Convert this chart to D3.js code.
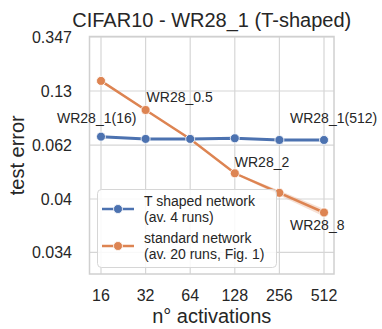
<!DOCTYPE html>
<html>
<head>
<meta charset="utf-8">
<script src="https://cdn.jsdelivr.net/npm/d3@7"></script>
<style>
  body { margin: 0; background: #fff; }
  text { font-family: "Liberation Sans", Arial, sans-serif; fill: #262626; }
</style>
</head>
<body>
<script>
// activations on the x axis
const activations = [16, 32, 64, 128, 256, 512];

// T shaped network (av. 4 runs)
const tShaped = [0.0688, 0.0670, 0.0670, 0.0675, 0.0662, 0.0662];
const tShapedLo = [0.0682, 0.0665, 0.0665, 0.0670, 0.0657, 0.0657];
const tShapedHi = [0.0694, 0.0675, 0.0675, 0.0680, 0.0667, 0.0667];

// standard network (av. 20 runs, Fig. 1)
const standard = [0.155, 0.0977, 0.0670, 0.0483, 0.0424, 0.0385];
const standardLo = [0.153, 0.0970, 0.0665, 0.0480, 0.0418, 0.0379];
const standardHi = [0.157, 0.0984, 0.0675, 0.0486, 0.0430, 0.0391];

// y ticks (values and the labels shown)
const yTicks = [0.3472, 0.131, 0.0626, 0.041, 0.0342];
const yTickLabels = ["0.347", "0.13", "0.062", "0.04", "0.034"];

const pointLabels = ["WR28_1(16)", "WR28_0.5", "WR28_2", "WR28_8", "WR28_1(512)"];

const W = 382, H = 329;
const plot = { left: 89.5, right: 334, top: 36.5, bottom: 274 };

const svg = d3.select("body").append("svg")
    .attr("width", W)
    .attr("height", H);

// x is log2, y is log10 of (error - offset)
const x = d3.scaleLog().base(2)
    .domain([16, 512])
    .range([101, 324]);

const offset = 0.031;
const yt = d3.scaleLinear()
    .domain([-0.5, -2.5])
    .range([37, 253]);
const y = v => yt(Math.log10(v - offset));

// grid
svg.append("g").selectAll("line")
    .data(activations)
    .enter().append("line")
    .attr("x1", d => x(d)).attr("x2", d => x(d))
    .attr("y1", plot.top).attr("y2", plot.bottom)
    .attr("stroke", "#d6d6d6").attr("stroke-width", 1.2);

svg.append("g").selectAll("line")
    .data(yTicks)
    .enter().append("line")
    .attr("x1", plot.left).attr("x2", plot.right)
    .attr("y1", d => y(d)).attr("y2", d => y(d))
    .attr("stroke", "#d6d6d6").attr("stroke-width", 1.2);

svg.append("rect")
    .attr("x", plot.left).attr("y", plot.top)
    .attr("width", plot.right - plot.left).attr("height", plot.bottom - plot.top)
    .attr("fill", "none")
    .attr("stroke", "#d0d0d0").attr("stroke-width", 1.5);

// tick labels
svg.append("g").selectAll("text")
    .data(yTicks)
    .enter().append("text")
    .attr("x", 72)
    .attr("y", d => y(d))
    .attr("dy", "0.36em")
    .attr("text-anchor", "end")
    .style("font-size", "16px")
    .text((d, i) => yTickLabels[i]);

svg.append("g").selectAll("text")
    .data(activations)
    .enter().append("text")
    .attr("x", d => x(d))
    .attr("y", 301)
    .attr("text-anchor", "middle")
    .style("font-size", "16px")
    .text(d => d);

// titles
svg.append("text")
    .attr("x", (plot.left + plot.right) / 2)
    .attr("y", 27)
    .attr("text-anchor", "middle")
    .style("font-size", "20px")
    .text("CIFAR10 - WR28_1 (T-shaped)");

svg.append("text")
    .attr("x", (plot.left + plot.right) / 2)
    .attr("y", 323)
    .attr("text-anchor", "middle")
    .style("font-size", "20px")
    .text("n° activations");

svg.append("text")
    .attr("transform", `translate(24,${(plot.top + plot.bottom) / 2}) rotate(-90)`)
    .attr("text-anchor", "middle")
    .style("font-size", "20px")
    .text("test error");

// series
const series = [
    { vals: standard, lo: standardLo, hi: standardHi, color: "#dd8452", width: 2.5 },
    { vals: tShaped, lo: tShapedLo, hi: tShapedHi, color: "#4c72b0", width: 3 }
];

const band = d3.area()
    .x((d, i) => x(activations[i]))
    .y0(d => y(d[0]))
    .y1(d => y(d[1]));

const line = d3.line()
    .x((d, i) => x(activations[i]))
    .y(d => y(d));

series.forEach(s => {
    svg.append("path")
        .datum(s.lo.map((v, i) => [v, s.hi[i]]))
        .attr("d", band)
        .attr("fill", s.color)
        .attr("fill-opacity", 0.25);

    svg.append("path")
        .datum(s.vals)
        .attr("d", line)
        .attr("fill", "none")
        .attr("stroke", s.color)
        .attr("stroke-width", s.width);

    svg.append("g").selectAll("circle")
        .data(s.vals)
        .enter().append("circle")
        .attr("cx", (d, i) => x(activations[i]))
        .attr("cy", d => y(d))
        .attr("r", 4.5)
        .attr("fill", s.color)
        .attr("stroke", "#fff")
        .attr("stroke-width", 0.8);
});

// point labels
const labelAt = [
    [16, tShaped[0], -44, -14],
    [32, standard[1], 1, -7.5],
    [128, standard[3], 0, -6],
    [512, standard[5], -34, 18],
    [512, tShaped[5], -34, -17]
];
svg.append("g").selectAll("text")
    .data(pointLabels)
    .enter().append("text")
    .attr("x", (d, i) => x(labelAt[i][0]) + labelAt[i][2])
    .attr("y", (d, i) => y(labelAt[i][1]) + labelAt[i][3])
    .style("font-size", "14px")
    .text(d => d);

// legend
const legend = svg.append("g").attr("transform", "translate(97,189)");
legend.append("rect")
    .attr("x", 0.5).attr("y", 0.5)
    .attr("width", 179).attr("height", 78)
    .attr("rx", 4)
    .attr("fill", "#fff").attr("fill-opacity", 0.85)
    .attr("stroke", "#d6d6d6").attr("stroke-width", 1);

const legendItems = [
    { color: "#4c72b0", lines: ["T shaped network", "(av. 4 runs)"] },
    { color: "#dd8452", lines: ["standard network", "(av. 20 runs, Fig. 1)"] }
];
legendItems.forEach((item, i) => {
    const cy = 20 + i * 37;
    legend.append("line")
        .attr("x1", 5).attr("x2", 37)
        .attr("y1", cy).attr("y2", cy)
        .attr("stroke", item.color).attr("stroke-width", 2.5);
    legend.append("circle")
        .attr("cx", 21).attr("cy", cy).attr("r", 4.5)
        .attr("fill", item.color)
        .attr("stroke", "#fff").attr("stroke-width", 0.8);
    item.lines.forEach((t, j) => {
        legend.append("text")
            .attr("x", 47)
            .attr("y", cy - 8 + j * 16)
            .attr("dy", "0.36em")
            .style("font-size", "14px")
            .text(t);
    });
});
</script>
</body>
</html>
